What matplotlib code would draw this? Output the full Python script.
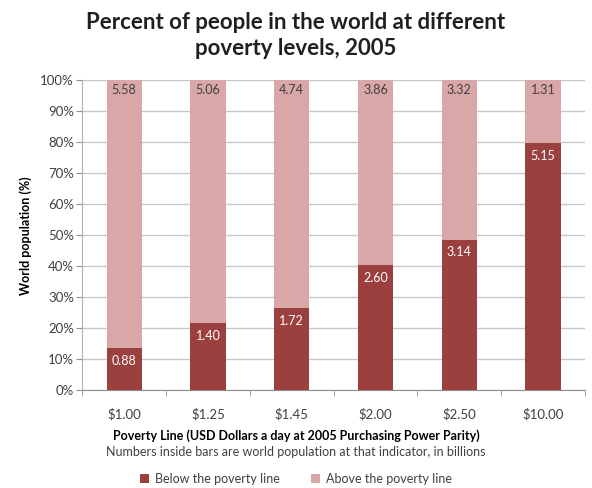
import numpy as np
import matplotlib.pyplot as plt
from matplotlib.ticker import PercentFormatter

plt.rcParams["font.family"] = ["Lato", "DejaVu Sans"]

# World population (billions) below / above each poverty line, 2005
poverty_lines = ["$1.00", "$1.25", "$1.45", "$2.00", "$2.50", "$10.00"]
below_bn = [0.88, 1.40, 1.72, 2.60, 3.14, 5.15]
above_bn = [5.58, 5.06, 4.74, 3.86, 3.32, 1.31]

DARK = "#9c3f3f"
LIGHT = "#d9a7a8"
GRID = "#c8c8c8"
TEXT = "#404040"

below = np.array(below_bn)
above = np.array(above_bn)
total = below + above
below_pct = below / total * 100
above_pct = above / total * 100

fig = plt.figure(figsize=(5.92, 4.88), dpi=100)
ax = fig.add_axes([0.139, 0.20, 0.849, 0.636])

x = np.arange(len(poverty_lines))
width = 0.42
ax.bar(x, below_pct, width, color=DARK, label="Below the poverty line", zorder=3)
ax.bar(x, above_pct, width, bottom=below_pct, color=LIGHT,
       label="Above the poverty line", zorder=3)

# value labels (billions) near the top of each segment
for xi, bp, bv, av in zip(x, below_pct, below, above):
    ax.text(xi, bp - 2.2, f"{bv:.2f}", ha="center", va="top",
            color="white", fontsize=9, zorder=4)
    ax.text(xi, 100 - 1.2, f"{av:.2f}", ha="center", va="top",
            color=TEXT, fontsize=9, zorder=4)

ax.set_xlim(-0.5, len(poverty_lines) - 0.5)
ax.set_ylim(0, 100)
ax.set_yticks(np.arange(0, 101, 10))
ax.yaxis.set_major_formatter(PercentFormatter(decimals=0))
ax.grid(axis="y", color=GRID, linewidth=1.0, zorder=0)

ax.set_xticks(x)
ax.set_xticklabels(poverty_lines)
ax.set_xticks(np.arange(-0.5, len(poverty_lines), 1), minor=True)
ax.tick_params(axis="x", which="major", length=0, pad=13, labelsize=9.5, labelcolor=TEXT)
ax.tick_params(axis="x", which="minor", length=4, color="#909090", direction="out")
ax.tick_params(axis="y", length=4, color="#909090", labelsize=9.5, labelcolor=TEXT, pad=2)

for side in ("top", "right"):
    ax.spines[side].set_visible(False)
ax.spines["left"].set_color("#b0b0b0")
ax.spines["bottom"].set_color("#909090")

ax.set_ylabel("World population (%)", fontsize=9, fontweight="bold", color="black", labelpad=6)

fig.text(0.5, 0.928, "Percent of people in the world at different\npoverty levels, 2005",
         ha="center", va="center", fontsize=16, fontweight="bold",
         color="#202020", linespacing=1.3)
fig.text(0.5, 0.107, "Poverty Line (USD Dollars a day at 2005 Purchasing Power Parity)",
         ha="center", va="center", fontsize=9, fontweight="bold", color="black")
fig.text(0.5, 0.074, "Numbers inside bars are world population at that indicator, in billions",
         ha="center", va="center", fontsize=9, color=TEXT)

fig.legend(loc="center", bbox_to_anchor=(0.5, 0.018), ncol=2, frameon=False,
           fontsize=9, handlelength=0.7, handleheight=0.7, columnspacing=2.5,
           handletextpad=0.5, labelcolor=TEXT)

fig.savefig("out.png", dpi=100)
